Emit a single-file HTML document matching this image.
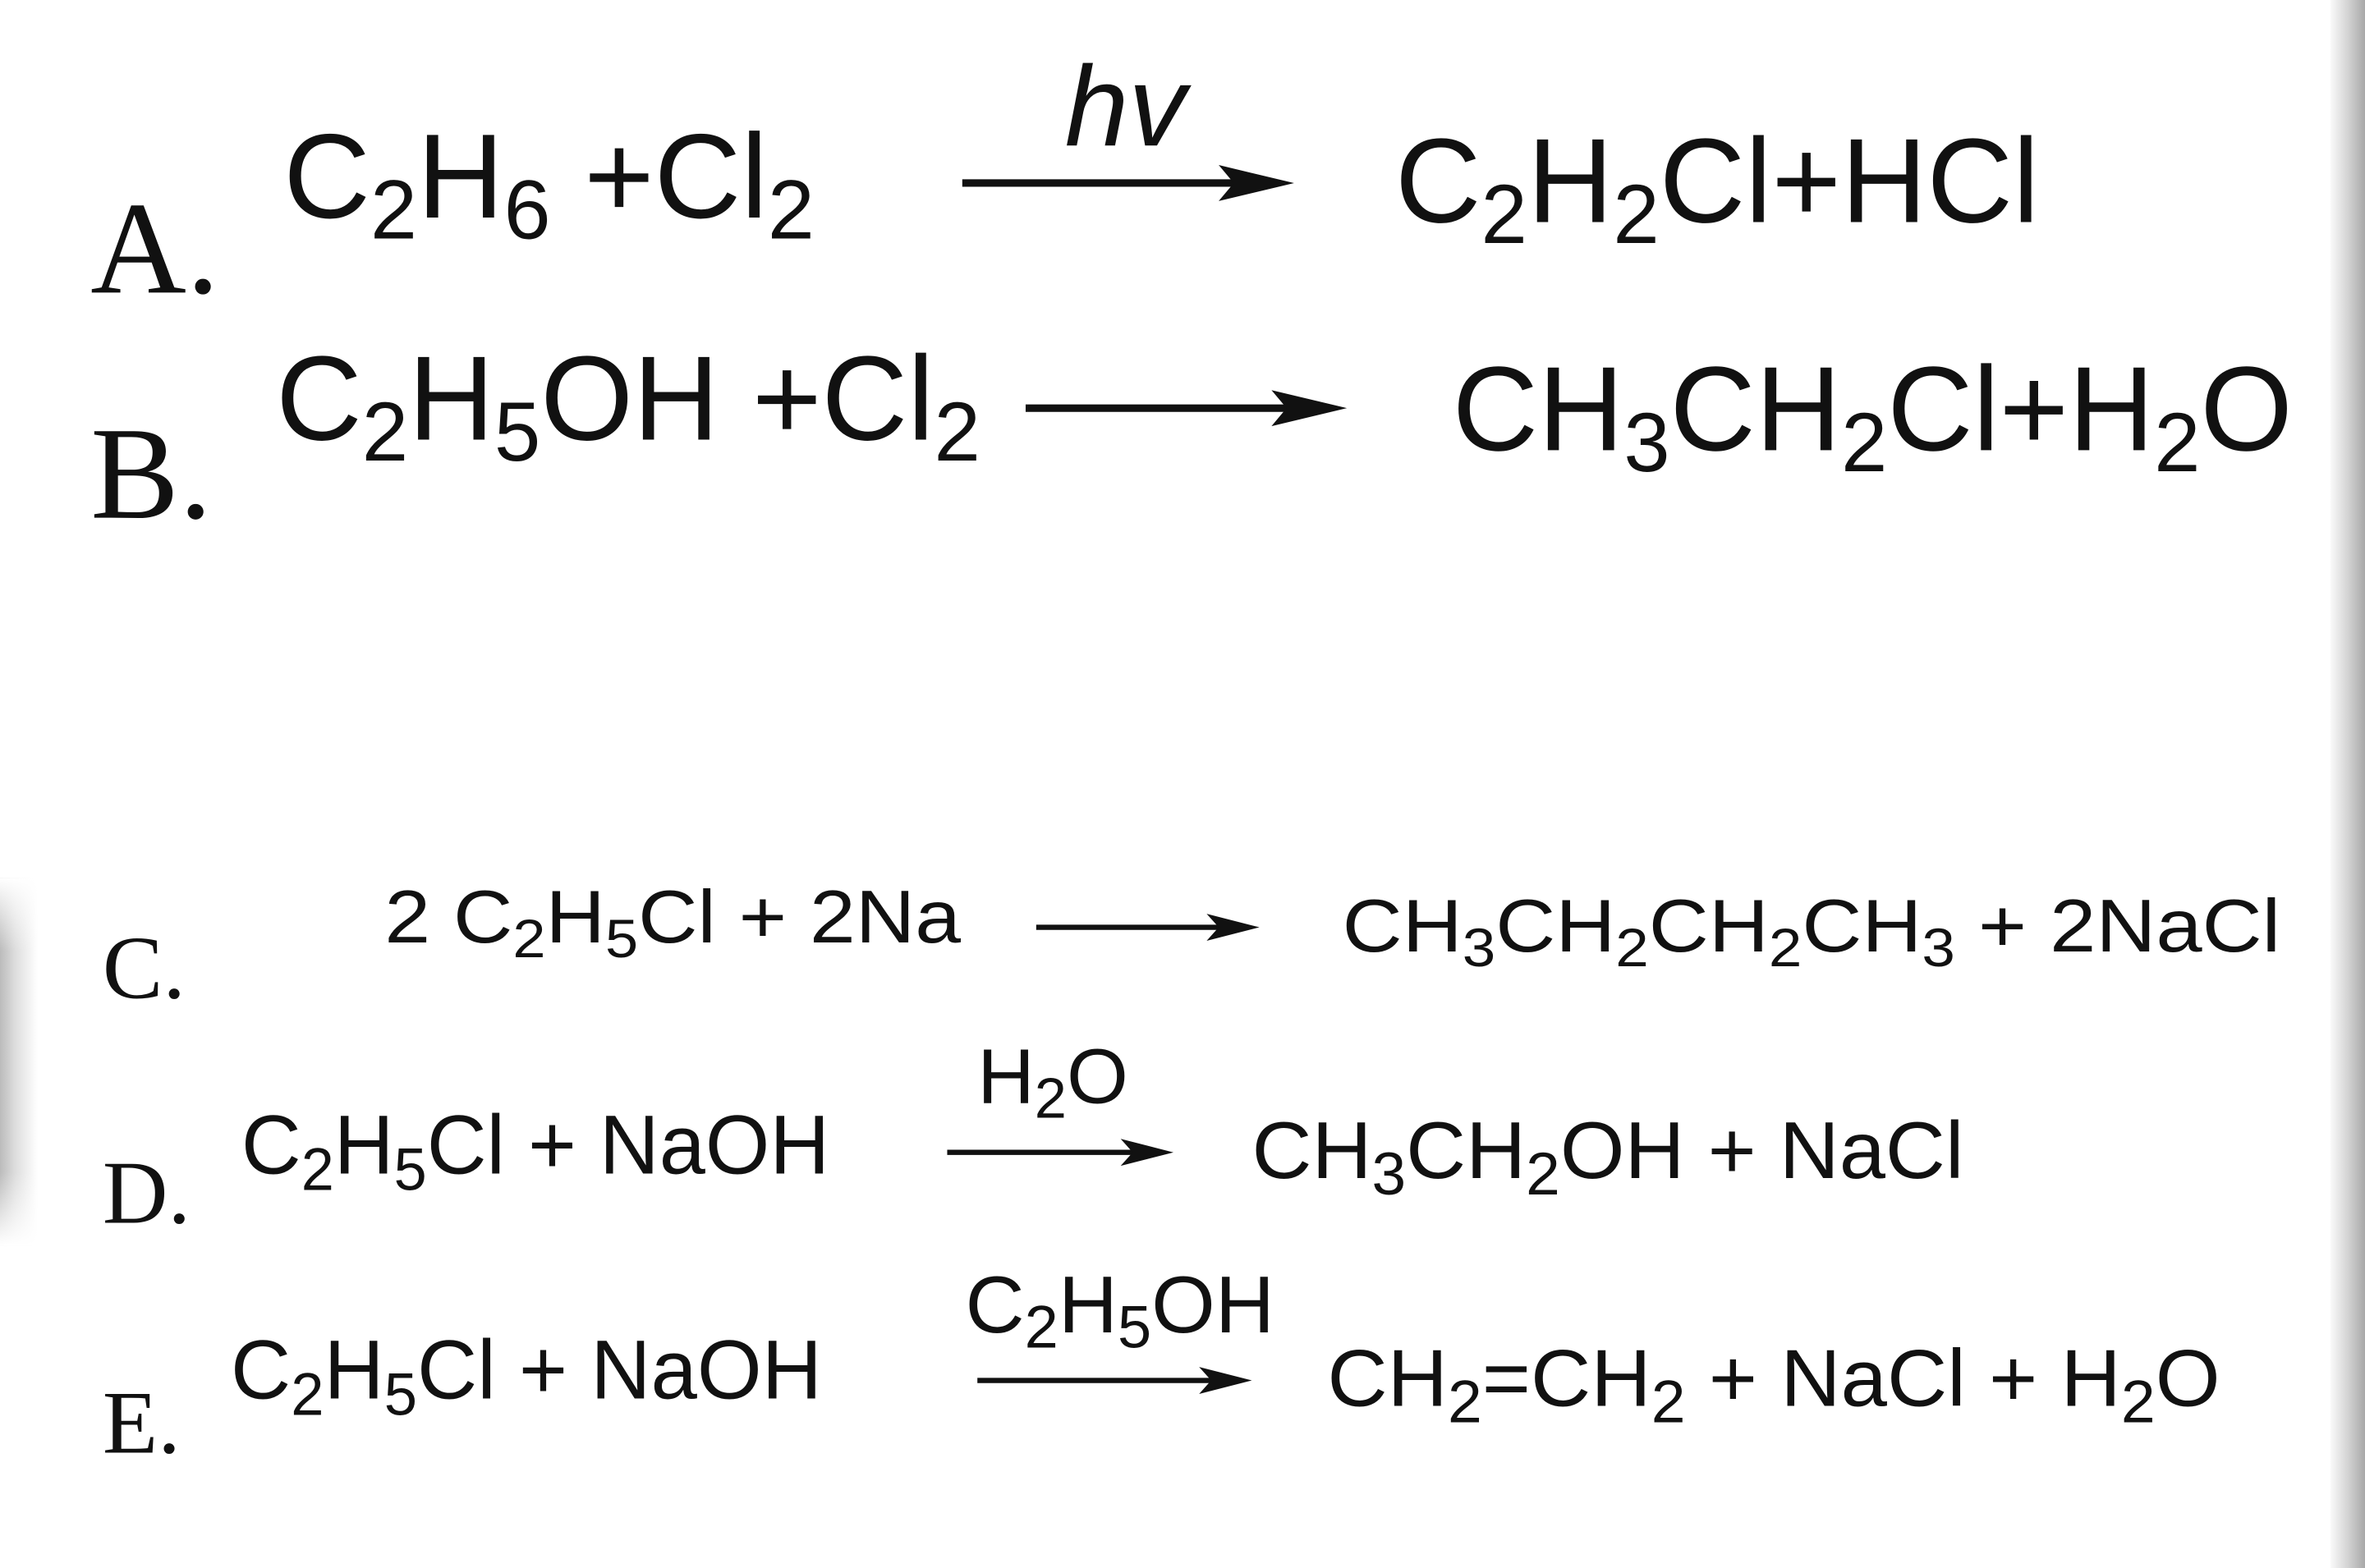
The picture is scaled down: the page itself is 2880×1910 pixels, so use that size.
<!DOCTYPE html>
<html><head><meta charset="utf-8"><style>
html,body{margin:0;padding:0;background:#fff;}
svg{display:block;}
text{font-family:"Liberation Sans",sans-serif;fill:#111;}
.t{font-family:"Liberation Serif",serif;}
</style></head><body>
<svg width="2880" height="1910" viewBox="0 0 1568 1045" preserveAspectRatio="none" xmlns="http://www.w3.org/2000/svg">
<defs>
<linearGradient id="rg" x1="0" x2="1" y1="0" y2="0"><stop offset="0" stop-color="#fafafa"/><stop offset="0.5" stop-color="#d4d4d4"/><stop offset="1" stop-color="#a8a8a8"/></linearGradient>
<linearGradient id="lg" x1="1" x2="0" y1="0" y2="0"><stop offset="0" stop-color="#fff"/><stop offset="0.6" stop-color="#ddd"/><stop offset="1" stop-color="#bbb"/></linearGradient>
<linearGradient id="lv" x1="0" x2="0" y1="0" y2="1"><stop offset="0" stop-color="#fff" stop-opacity="1"/><stop offset="0.2" stop-color="#fff" stop-opacity="0"/><stop offset="0.8" stop-color="#fff" stop-opacity="0"/><stop offset="1" stop-color="#fff" stop-opacity="1"/></linearGradient>
</defs>
<rect width="1568" height="1045" fill="#fff"/>
<rect x="1545" y="0" width="23" height="1045" fill="url(#rg)"/>
<rect x="0" y="585" width="25" height="245" fill="url(#lg)"/>
<rect x="0" y="585" width="25" height="245" fill="url(#lv)"/>

<!-- A -->
<text class="t" x="60" y="195" font-size="88">A.</text>
<text x="188" y="145" font-size="80" textLength="352" lengthAdjust="spacingAndGlyphs">C<tspan font-size="56" dy="14">2</tspan><tspan dy="-14">H</tspan><tspan font-size="56" dy="14">6</tspan><tspan dy="-14"> +Cl</tspan><tspan font-size="56" dy="14">2</tspan></text>
<text x="706" y="97" font-size="76" font-style="italic">hv</text>
<line x1="638" y1="122" x2="835" y2="122" stroke="#111" stroke-width="5"/>
<polygon points="858,122 808,110 818,122 808,134" fill="#111"/>
<text x="925" y="148" font-size="80" textLength="427" lengthAdjust="spacingAndGlyphs">C<tspan font-size="56" dy="14">2</tspan><tspan dy="-14">H</tspan><tspan font-size="56" dy="14">2</tspan><tspan dy="-14">Cl+HCl</tspan></text>

<!-- B -->
<text class="t" x="60" y="345" font-size="88">B.</text>
<text x="183" y="293" font-size="80" textLength="467" lengthAdjust="spacingAndGlyphs">C<tspan font-size="56" dy="14">2</tspan><tspan dy="-14">H</tspan><tspan font-size="56" dy="14">5</tspan><tspan dy="-14">OH +Cl</tspan><tspan font-size="56" dy="14">2</tspan></text>
<line x1="680" y1="272" x2="870" y2="272" stroke="#111" stroke-width="5"/>
<polygon points="893,272 843,260 853,272 843,284" fill="#111"/>
<text x="963" y="300" font-size="80" textLength="557" lengthAdjust="spacingAndGlyphs">CH<tspan font-size="56" dy="14">3</tspan><tspan dy="-14">CH</tspan><tspan font-size="56" dy="14">2</tspan><tspan dy="-14">Cl+H</tspan><tspan font-size="56" dy="14">2</tspan><tspan dy="-14">O</tspan></text>

<!-- C -->
<text class="t" x="68" y="665" font-size="60">C.</text>
<text x="255" y="628" font-size="50" textLength="382" lengthAdjust="spacingAndGlyphs">2 C<tspan font-size="36" dy="10">2</tspan><tspan dy="-10">H</tspan><tspan font-size="36" dy="10">5</tspan><tspan dy="-10">Cl + 2Na</tspan></text>
<line x1="687" y1="618" x2="815" y2="618" stroke="#111" stroke-width="3.5"/>
<polygon points="835,618 800,609 808,618 800,627" fill="#111"/>
<text x="890" y="634" font-size="50" textLength="622" lengthAdjust="spacingAndGlyphs">CH<tspan font-size="36" dy="10">3</tspan><tspan dy="-10">CH</tspan><tspan font-size="36" dy="10">2</tspan><tspan dy="-10">CH</tspan><tspan font-size="36" dy="10">2</tspan><tspan dy="-10">CH</tspan><tspan font-size="36" dy="10">3</tspan><tspan dy="-10"> + 2NaCl</tspan></text>

<!-- D -->
<text class="t" x="68" y="815" font-size="60">D.</text>
<text x="160" y="782" font-size="56" textLength="390" lengthAdjust="spacingAndGlyphs">C<tspan font-size="40" dy="11">2</tspan><tspan dy="-11">H</tspan><tspan font-size="40" dy="11">5</tspan><tspan dy="-11">Cl + NaOH</tspan></text>
<text x="648" y="735" font-size="52" textLength="100" lengthAdjust="spacingAndGlyphs">H<tspan font-size="38" dy="10">2</tspan><tspan dy="-10">O</tspan></text>
<line x1="628" y1="768" x2="758" y2="768" stroke="#111" stroke-width="3.5"/>
<polygon points="778,768 743,759 751,768 743,777" fill="#111"/>
<text x="830" y="785" font-size="54" textLength="472" lengthAdjust="spacingAndGlyphs">CH<tspan font-size="40" dy="11">3</tspan><tspan dy="-11">CH</tspan><tspan font-size="40" dy="11">2</tspan><tspan dy="-11">OH + NaCl</tspan></text>

<!-- E -->
<text class="t" x="68" y="968" font-size="60">E.</text>
<text x="153" y="932" font-size="56" textLength="392" lengthAdjust="spacingAndGlyphs">C<tspan font-size="40" dy="11">2</tspan><tspan dy="-11">H</tspan><tspan font-size="40" dy="11">5</tspan><tspan dy="-11">Cl + NaOH</tspan></text>
<text x="640" y="888" font-size="54" textLength="205" lengthAdjust="spacingAndGlyphs">C<tspan font-size="40" dy="10">2</tspan><tspan dy="-10">H</tspan><tspan font-size="40" dy="10">5</tspan><tspan dy="-10">OH</tspan></text>
<line x1="648" y1="920" x2="810" y2="920" stroke="#111" stroke-width="3.5"/>
<polygon points="830,920 795,911 803,920 795,929" fill="#111"/>
<text x="880" y="937" font-size="54" textLength="592" lengthAdjust="spacingAndGlyphs">CH<tspan font-size="40" dy="11">2</tspan><tspan dy="-11">=CH</tspan><tspan font-size="40" dy="11">2</tspan><tspan dy="-11"> + NaCl + H</tspan><tspan font-size="40" dy="11">2</tspan><tspan dy="-11">O</tspan></text>
</svg>
</body></html>
